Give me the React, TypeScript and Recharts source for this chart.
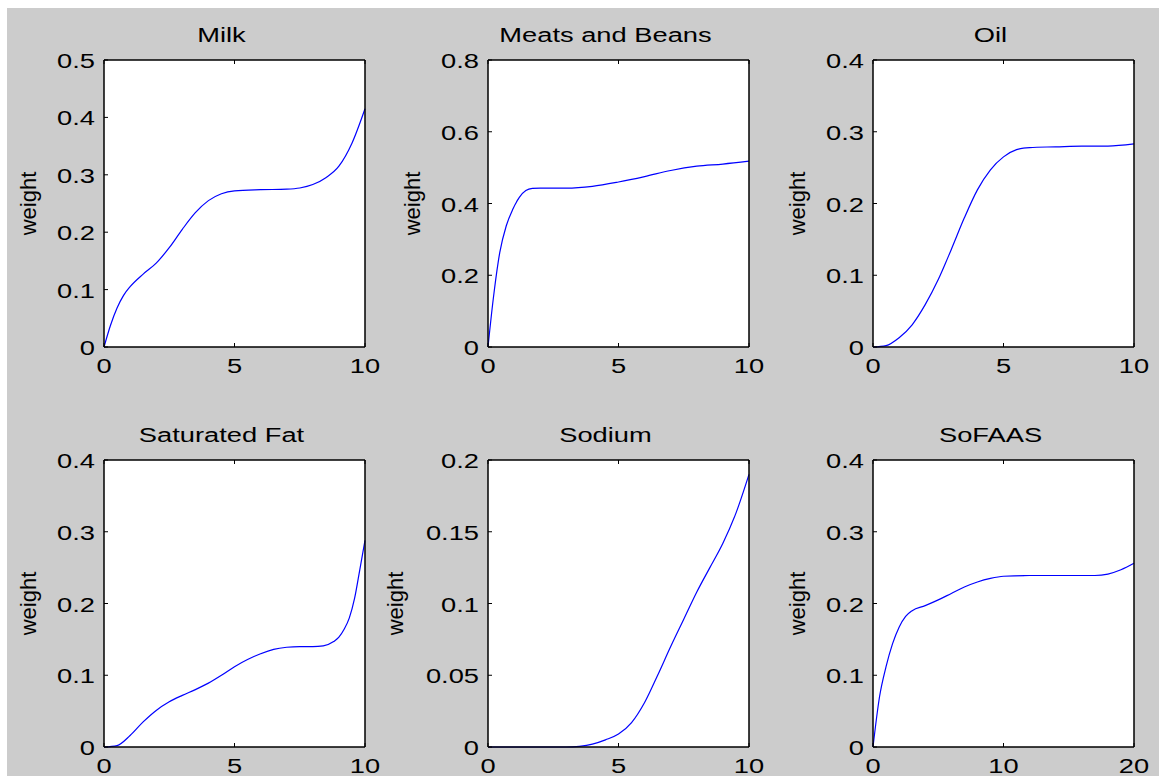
import React from 'react';
import { LineChart, Line, XAxis, YAxis } from 'recharts';

const FONT = '"Liberation Sans", Arial, Helvetica, sans-serif';
const SX = 1.3;

// ---- data ----
const titles = ['Milk', 'Meats and Beans', 'Oil', 'Saturated Fat', 'Sodium', 'SoFAAS'];
const yLabel = 'weight';

const milkX = [0, 0.25, 0.5, 0.75, 1, 1.5, 2, 2.5, 3, 3.5, 4, 4.5, 5, 6, 7, 7.5, 8, 8.5, 9, 9.5, 10];
const milkY = [0, 0.038, 0.068, 0.09, 0.105, 0.127, 0.146, 0.173, 0.205, 0.234, 0.255, 0.267, 0.272, 0.274, 0.275, 0.277, 0.283, 0.295, 0.315, 0.355, 0.415];

const meatsX = [0, 0.2, 0.45, 0.7, 0.95, 1.2, 1.45, 1.7, 2, 3, 4, 5, 6, 7, 8, 9, 10];
const meatsY = [0, 0.133, 0.263, 0.338, 0.384, 0.417, 0.436, 0.442, 0.443, 0.443, 0.448, 0.46, 0.475, 0.492, 0.504, 0.51, 0.518];

const oilX = [0, 0.5, 1, 1.5, 2, 2.5, 3, 3.5, 4, 4.5, 5, 5.5, 6, 7, 8, 9, 10];
const oilY = [0, 0.002, 0.013, 0.031, 0.059, 0.094, 0.136, 0.18, 0.219, 0.247, 0.265, 0.275, 0.278, 0.279, 0.28, 0.28, 0.283];

const satX = [0, 0.5, 1, 1.5, 2, 2.5, 3, 3.5, 4, 4.5, 5, 5.5, 6, 6.5, 7, 7.5, 8, 8.4, 8.8, 9, 9.2, 9.4, 9.6, 9.8, 10];
const satY = [0, 0.002, 0.016, 0.035, 0.051, 0.063, 0.072, 0.08, 0.089, 0.1, 0.112, 0.122, 0.13, 0.136, 0.139, 0.14, 0.14, 0.141, 0.147, 0.153, 0.164, 0.18, 0.207, 0.247, 0.288];

const sodiumX = [0, 1, 2, 3, 3.5, 4, 4.5, 5, 5.5, 6, 6.5, 7, 7.5, 8, 8.5, 9, 9.5, 10];
const sodiumY = [0, 0, 0, 0, 0.0005, 0.002, 0.005, 0.009, 0.017, 0.031, 0.05, 0.07, 0.089, 0.108, 0.125, 0.142, 0.163, 0.19];

const sofaasX = [0, 0.5, 1, 1.5, 2, 2.5, 3, 4, 5, 6, 7, 8, 9, 10, 12, 14, 16, 17, 18, 19, 20];
const sofaasY = [0, 0.07, 0.112, 0.144, 0.167, 0.182, 0.19, 0.197, 0.205, 0.214, 0.223, 0.23, 0.235, 0.238, 0.239, 0.239, 0.239, 0.239, 0.241, 0.247, 0.256];

const xTicks10 = [0, 5, 10];
const xTicks20 = [0, 10, 20];
const yTicks05 = [0, 0.1, 0.2, 0.3, 0.4, 0.5];
const yTicks08 = [0, 0.2, 0.4, 0.6, 0.8];
const yTicks04 = [0, 0.1, 0.2, 0.3, 0.4];
const yTicks02 = [0, 0.05, 0.1, 0.15, 0.2];

const build = (xs: number[], ys: number[]) => xs.map((x, i) => ({ x, y: ys[i] }));

const panels = [
  { title: titles[0], data: build(milkX, milkY), xTicks: xTicks10, yTicks: yTicks05, col: 0, row: 0, labelOff: 68.5 },
  { title: titles[1], data: build(meatsX, meatsY), xTicks: xTicks10, yTicks: yTicks08, col: 1, row: 0, labelOff: 68.5 },
  { title: titles[2], data: build(oilX, oilY), xTicks: xTicks10, yTicks: yTicks04, col: 2, row: 0, labelOff: 68.5 },
  { title: titles[3], data: build(satX, satY), xTicks: xTicks10, yTicks: yTicks04, col: 0, row: 1, labelOff: 68.5 },
  { title: titles[4], data: build(sodiumX, sodiumY), xTicks: xTicks10, yTicks: yTicks02, col: 1, row: 1, labelOff: 85 },
  { title: titles[5], data: build(sofaasX, sofaasY), xTicks: xTicks20, yTicks: yTicks04, col: 2, row: 1, labelOff: 68.5 },
];

// ---- layout ----
const colLefts = [97, 481, 866];
const rowTops = [52, 452];
const PW = 261;
const PH = 287;
const ML = 120;
const MT = 50;
const CW = ML + PW + 30;
const CH = MT + PH + 45;

const txt = (v: number) => String(v);

const LeftTick = (props: any) => {
  const { x, y, payload } = props;
  return (
    <g>
      <line x1={x} y1={y} x2={x + 4} y2={y} stroke="#000" strokeWidth={1} />
      <text transform={`translate(${x - 9},${y + 8}) scale(${SX},1)`} textAnchor="end" fontSize={21} fontFamily={FONT} fill="#000">
        {txt(payload.value)}
      </text>
    </g>
  );
};
const BottomTick = (props: any) => {
  const { x, y, payload } = props;
  return (
    <g>
      <line x1={x} y1={y} x2={x} y2={y - 4} stroke="#000" strokeWidth={1} />
      <text transform={`translate(${x},${y + 26}) scale(${SX},1)`} textAnchor="middle" fontSize={21} fontFamily={FONT} fill="#000">
        {txt(payload.value)}
      </text>
    </g>
  );
};
const TopTick = (props: any) => {
  const { x, y } = props;
  return <line x1={x} y1={y} x2={x} y2={y + 4} stroke="#000" strokeWidth={1} />;
};
const RightTick = (props: any) => {
  const { x, y } = props;
  return <line x1={x} y1={y} x2={x - 4} y2={y} stroke="#000" strokeWidth={1} />;
};

const Panel = ({ p }: { p: any }) => {
  const xMax = p.xTicks[p.xTicks.length - 1];
  const yMax = p.yTicks[p.yTicks.length - 1];
  const titleContent = () => (
    <text transform={`translate(${ML + PW / 2 - 13},${MT - 18}) scale(${SX},1)`} textAnchor="middle" fontSize={21} fontFamily={FONT} fill="#000">
      {p.title}
    </text>
  );
  const yLabelContent = () => (
    <text transform={`translate(${ML - p.labelOff},${MT + PH / 2}) rotate(-90)`} textAnchor="middle" fontSize={22} fontFamily={FONT} fill="#000">
      {yLabel}
    </text>
  );
  const axisLine = { stroke: '#000', strokeWidth: 1.5 };
  return (
    <div style={{ position: 'absolute', left: colLefts[p.col] - ML, top: rowTops[p.row] - MT }}>
      <LineChart width={CW} height={CH} data={p.data} margin={{ top: MT - 10, left: ML - 60, right: 20, bottom: 15 }}>
        <rect x={ML} y={MT} width={PW} height={PH} fill="#fff" />
        <XAxis xAxisId="b" type="number" dataKey="x" domain={[0, xMax]} ticks={p.xTicks} orientation="bottom" height={30}
          tickSize={0} tickMargin={0} tickLine={false} axisLine={axisLine} tick={<BottomTick />} interval={0} />
        <XAxis xAxisId="t" type="number" dataKey="x" domain={[0, xMax]} ticks={p.xTicks} orientation="top" height={10}
          tickSize={0} tickMargin={0} tickLine={false} axisLine={axisLine} tick={<TopTick />} interval={0}
          label={{ content: titleContent }} />
        <YAxis yAxisId="l" type="number" domain={[0, yMax]} ticks={p.yTicks} orientation="left" width={60}
          tickSize={0} tickMargin={0} tickLine={false} axisLine={axisLine} tick={<LeftTick />} interval={0}
          label={{ content: yLabelContent }} />
        <YAxis yAxisId="r" type="number" domain={[0, yMax]} ticks={p.yTicks} orientation="right" width={10}
          tickSize={0} tickMargin={0} tickLine={false} axisLine={axisLine} tick={<RightTick />} interval={0} />
        <Line xAxisId="b" yAxisId="l" type="monotone" dataKey="y" stroke="#0000ff" strokeWidth={1.2} dot={false}
          isAnimationActive={false} />
      </LineChart>
    </div>
  );
};

export default function App() {
  return (
    <div style={{ position: 'fixed', left: 7, top: 8, right: 0, bottom: 0, background: '#cccccc', overflow: 'hidden' }}>
      {panels.map((p, i) => (
        <Panel key={i} p={p} />
      ))}
    </div>
  );
}
